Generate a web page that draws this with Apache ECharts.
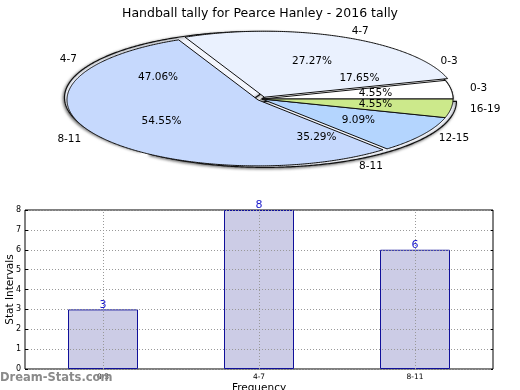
<!DOCTYPE html>
<html>
<head>
<meta charset="utf-8">
<script src="https://cdn.jsdelivr.net/npm/echarts@6/dist/echarts.min.js"></script>
<style>html,body{margin:0;padding:0;background:#fff;}#c{width:520px;height:390px;}</style>
</head>
<body>
<div id="c"></div>
<script>
// ---- data ----
const titleText = 'Handball tally for Pearce Hanley - 2016 tally';
const pieCatsA = ['0-3', '4-7', '8-11', '12-15', '16-19'];
const pieValsA = [4.55, 27.27, 54.55, 9.09, 4.55];
const pieCatsB = ['0-3', '4-7', '8-11'];
const pieValsB = [17.65, 47.06, 35.29];
const barCats = ['0-3', '4-7', '8-11'];
const barVals = [3, 8, 6];
const yTicks = [0, 1, 2, 3, 4, 5, 6, 7, 8];

// ---- styles / layout ----
const pieColorsA = ['#ffffff', '#eaf1fe', '#c6d9fd', '#b4d5fe', '#cce98b'];
const pieColorsB = ['#ffffff', '#f3f6fd', '#f3f6fd'];
const explodeA = [0, 0.03, 0.025, 0, 0];
const explodeB = [0, 0.04, 0.04];
const CX = 262, CY = 99, RX = 191, RY = 66;
const FONT = 'DejaVu Sans';

const pies = [
  { cats: pieCatsB, vals: pieValsB, colors: pieColorsB, explode: explodeB },
  { cats: pieCatsA, vals: pieValsA, colors: pieColorsA, explode: explodeA }
];

const pieData = [];
pies.forEach((p, pi) => {
  const total = p.vals.reduce((a, b) => a + b, 0);
  let acc = 0;
  p.vals.forEach((v, i) => {
    const s = acc / total; acc += v; const e = acc / total;
    pieData.push([s, e, p.explode[i], pi, i]);
  });
});

function renderSlice(params, api) {
  const s = api.value(0), e = api.value(1), ex = api.value(2);
  const pi = api.value(3), i = api.value(4);
  const p = pies[pi];
  const a0 = s * Math.PI * 2, a1 = e * Math.PI * 2, mid = (a0 + a1) / 2;
  const ox = CX + ex * RX * Math.cos(mid);
  const oy = CY - ex * RY * Math.sin(mid);
  const pts = [[ox, oy]];
  const n = Math.max(4, Math.ceil((a1 - a0) / 0.01));
  for (let k = 0; k <= n; k++) {
    const a = a0 + (a1 - a0) * k / n;
    pts.push([ox + RX * Math.cos(a), oy - RY * Math.sin(a)]);
  }
  const cm = Math.cos(mid), sm = Math.sin(mid);
  const children = [{
    type: 'polygon',
    z2: pi * 2,
    shape: { points: pts },
    style: pi === 0 ? {
      fill: p.colors[i], stroke: '#111', lineWidth: 1.2,
      shadowBlur: 3, shadowColor: 'rgba(0,0,0,0.55)', shadowOffsetX: -1, shadowOffsetY: 1
    } : { fill: p.colors[i], stroke: '#111', lineWidth: 1 }
  }, {
    type: 'text',
    z2: 20,
    style: {
      x: ox + 0.6 * RX * cm, y: oy - 0.6 * RY * sm,
      text: p.vals[i].toFixed(2) + '%',
      align: 'center', verticalAlign: 'middle',
      fill: '#000', font: '10.5px "' + FONT + '"'
    }
  }, {
    type: 'text',
    z2: 20,
    style: {
      x: ox + 1.1 * RX * cm, y: oy - 1.1 * RY * sm,
      text: p.cats[i],
      align: cm >= 0 ? 'left' : 'right', verticalAlign: 'middle',
      fill: '#000', font: '10.5px "' + FONT + '"'
    }
  }];
  return { type: 'group', children: children };
}

const chart = echarts.init(document.getElementById('c'), null, { renderer: 'canvas' });
chart.setOption({
  animation: false,
  backgroundColor: '#fff',
  textStyle: { fontFamily: FONT },
  title: {
    text: titleText, left: 'center', top: 2,
    textStyle: { fontSize: 12.5, fontWeight: 'normal', color: '#000', fontFamily: FONT }
  },
  graphic: [{
    type: 'text', left: 0, top: 372, z: 100,
    style: { text: 'Dream-Stats.com', fill: '#8a8a8a', font: 'bold 11.5px "' + FONT + '"' }
  }],
  grid: {
    left: 25, right: 27, top: 210, bottom: 21,
    outerBoundsMode: 'none', containLabel: false,
    show: true, borderColor: '#000', borderWidth: 1, backgroundColor: 'transparent'
  },
  xAxis: {
    type: 'category', data: barCats,
    name: 'Frequency', nameLocation: 'middle', nameGap: 14, nameMoveOverlap: false,
    nameTextStyle: { fontSize: 10.5, color: '#000' },
    axisLine: { show: false },
    axisTick: { show: true, inside: true, alignWithLabel: true, length: 3, lineStyle: { color: '#000' } },
    axisLabel: { fontSize: 7.5, color: '#000', margin: 4 },
    splitLine: { show: false }
  },
  yAxis: [{
    type: 'value', min: 0, max: 8, interval: 1, z: 3,
    name: 'Stat Intervals', nameLocation: 'middle', nameGap: 9, nameRotate: 90, nameMoveOverlap: false,
    nameTextStyle: { fontSize: 10.5, color: '#000' },
    axisLine: { show: false },
    axisTick: { show: true, inside: true, length: 3, lineStyle: { color: '#000' } },
    axisLabel: { fontSize: 8, color: '#000', margin: 4 },
    splitLine: { show: true, lineStyle: { type: [1, 2], color: '#999' } }
  }, {
    type: 'value', min: 0, max: 8, interval: 1, position: 'right',
    axisLine: { show: false },
    axisTick: { show: true, inside: true, length: 3, lineStyle: { color: '#000' } },
    axisLabel: { show: false },
    splitLine: { show: false }
  }],
  series: [{
    type: 'custom',
    coordinateSystem: 'none',
    renderItem: renderSlice,
    data: pieData,
    silent: true,
    z: 5
  }, {
    type: 'bar',
    data: barVals,
    barWidth: 70,
    z: 2,
    itemStyle: { color: '#ccccE6', borderColor: '#10109a', borderWidth: 1 },
    label: { show: true, position: 'top', distance: -1, color: '#1a1acc', fontSize: 11 },
    markLine: {
      silent: true, symbol: 'none',
      label: { show: false },
      lineStyle: { type: [1, 2], color: '#999', width: 1 },
      data: barCats.map(c => ({ xAxis: c }))
    }
  }]
});
</script>
</body>
</html>
